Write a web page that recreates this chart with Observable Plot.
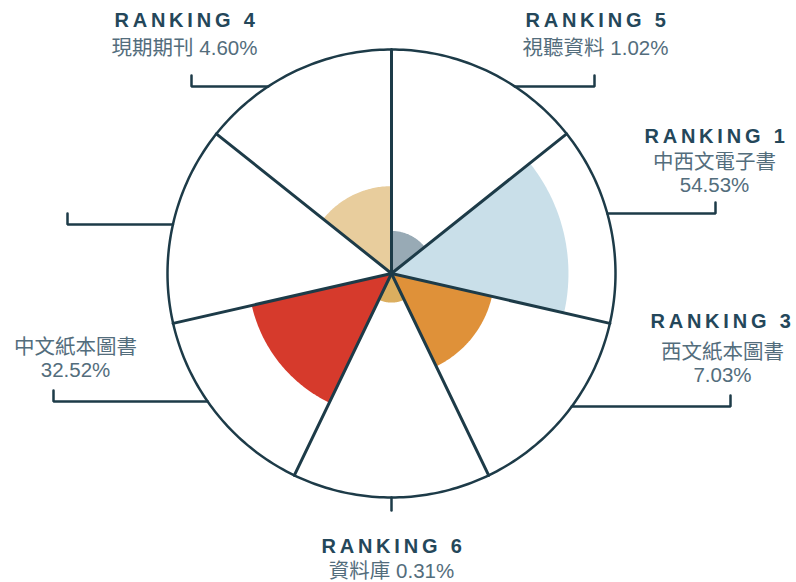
<!DOCTYPE html>
<html><head><meta charset="utf-8">
<script src="https://cdn.jsdelivr.net/npm/d3@7"></script>
<script src="https://cdn.jsdelivr.net/npm/@observablehq/plot@0.6"></script>
<style>
html,body{margin:0;padding:0;background:#fff;}
#chart svg{display:block;}
</style></head><body><div id="chart"></div>
<script>
// Sectors, clockwise from 12 o'clock
const categories = ["視聽資料", "中西文電子書", "西文紙本圖書", "資料庫", "中文紙本圖書", "", "現期期刊"];
const ranks = [5, 1, 3, 6, 2, null, 4];
const shares = [1.02, 54.53, 7.03, 0.31, 32.52, null, 4.60];
// radial extent of each wedge, as a share of the outer ring
const wedgeLength = [0.19, 0.79, 0.46, 0.13, 0.64, 0, 0.39];
const palette = ["#98aab5", "#c9dfe9", "#df9139", "#dbae5f", "#d63a2c", "#ffffff", "#e8cd9d"];

// ---- layout (pixels) ----
const W = 796, H = 582, CX = 391, CY = 273, R = 224;
const INK = "#1d3b48";
const n = categories.length, step = 2 * Math.PI / n;
const px = v => v - CX, py = v => CY - v;

// wedge outlines
const wedgePts = [];
categories.forEach((c, i) => {
  const r = wedgeLength[i] * R;
  if (!r) return;
  const a0 = i * step, a1 = (i + 1) * step;
  wedgePts.push({c, x: 0, y: 0});
  for (let k = 0; k <= 60; k++) {
    const a = a0 + (a1 - a0) * k / 60;
    wedgePts.push({c, x: r * Math.sin(a), y: r * Math.cos(a)});
  }
  wedgePts.push({c, x: 0, y: 0});
});
const ring = d3.range(0, 361).map(d => ({x: R * Math.sin(d * Math.PI / 180), y: R * Math.cos(d * Math.PI / 180)}));
const spokes = categories.map((c, i) => ({x: R * Math.sin(i * step), y: R * Math.cos(i * step)}));

// label layout
const labelLayout = [
  {i: 0, ly: 86, ex: 594, tx: 595, title: 26, lines: [54]},
  {i: 1, ly: 213, ex: 715, tx: 714, title: 142, lines: [168, 191]},
  {i: 2, ly: 406, ex: 730, tx: 722, ttx: 720, title: 327, lines: [358, 381]},
  {i: 3, vertical: true, tx: 391, title: 552, lines: [577]},
  {i: 4, ly: 401, ex: 53, tx: 75, title: null, lines: [353, 376]},
  {i: 5, ly: 224, ex: 67, tx: 67, title: null, lines: []},
  {i: 6, ly: 86, ex: 191, tx: 184, title: 26, lines: [54]}
];
const leaders = [], titles = [], subs = [];
labelLayout.forEach(L => {
  if (L.vertical) {
    leaders.push({k: L.i, x: 0, y: -R}, {k: L.i, x: 0, y: -R - 13});
  } else {
    const dy = py(L.ly), side = L.ex > CX ? 1 : -1;
    const dx = side * Math.sqrt(R * R - dy * dy);
    leaders.push({k: L.i, x: dx, y: dy}, {k: L.i, x: px(L.ex), y: dy}, {k: L.i, x: px(L.ex), y: dy + 11});
  }
  if (L.title != null && ranks[L.i] != null) titles.push({x: px(L.ttx ?? L.tx), y: py(L.title), t: `RANKING ${ranks[L.i]}`});
  const cat = categories[L.i], s = shares[L.i];
  if (L.lines.length === 1) subs.push({x: px(L.tx), y: py(L.lines[0]), t: `${cat} ${s.toFixed(2)}%`});
  if (L.lines.length === 2) {
    subs.push({x: px(L.tx), y: py(L.lines[0]), t: cat});
    subs.push({x: px(L.tx), y: py(L.lines[1]), t: `${s.toFixed(2)}%`});
  }
});

const plot = Plot.plot({
  width: W, height: H, margin: 0,
  x: {domain: [-CX, W - CX], range: [0, W], axis: null},
  y: {domain: [CY - H, CY], range: [H, 0], axis: null},
  color: {domain: categories, range: palette},
  style: {background: "#fff", overflow: "visible"},
  marks: [
    Plot.line(wedgePts, {x: "x", y: "y", z: "c", fill: "c", stroke: "none", curve: "linear"}),
    Plot.link(spokes, {x1: d => 0, y1: d => 0, x2: "x", y2: "y", stroke: INK, strokeWidth: 3, strokeLinecap: "round"}),
    Plot.line(ring, {x: "x", y: "y", stroke: INK, strokeWidth: 2.5}),
    Plot.line(leaders, {x: "x", y: "y", z: "k", stroke: INK, strokeWidth: 2.5, strokeLinejoin: "miter"}),
    Plot.text(titles, {x: "x", y: "y", text: "t", lineAnchor: "bottom", textAnchor: "middle", dx: 2,
      fontSize: 20, fontWeight: "bold", fill: "#24475a", fontFamily: "'Liberation Sans', Arial, sans-serif"}),
    Plot.text(subs, {x: "x", y: "y", text: "t", lineAnchor: "bottom", textAnchor: "middle",
      fontSize: 20.5, fill: "#536d7c", fontFamily: "'Liberation Sans', 'Noto Sans CJK TC', sans-serif"})
  ]
});
d3.select(plot).selectAll("text").filter(function() { return this.textContent.startsWith("RANKING"); })
  .attr("letter-spacing", "3.8px");
document.getElementById("chart").appendChild(plot);
</script></body></html>
